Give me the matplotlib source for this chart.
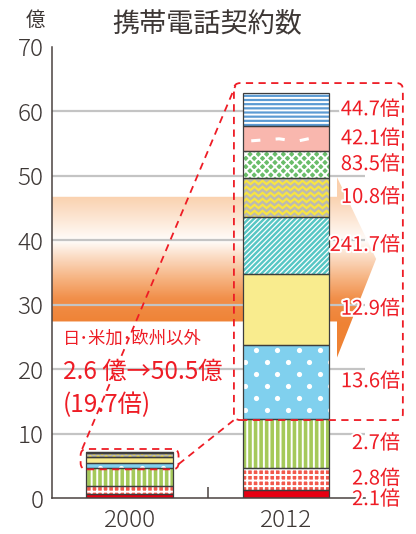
import numpy as np
import matplotlib
matplotlib.use("Agg")
import matplotlib.pyplot as plt
from matplotlib.patches import FancyBboxPatch, Polygon
from matplotlib.colors import LinearSegmentedColormap
import matplotlib.patheffects as pe

plt.rcParams['font.family'] = ['Noto Sans CJK JP', 'DejaVu Sans']
plt.rcParams['hatch.linewidth'] = 1.4

# ---- data (億件) -------------------------------------------------------
years = ['2000', '2012']
# segments stacked from the bottom up
values_2000 = [0.62, 1.18, 2.85, 0.846, 0.853, 0.0364, 0.565, 0.049, 0.093, 0.114]
values_2012 = [1.3, 3.3, 7.7, 11.5, 11.0, 8.8, 6.1, 4.1, 3.9, 5.1]
ratio_labels = ['2.1倍', '2.8倍', '2.7倍', '13.6倍', '12.9倍', '241.7倍',
                '10.8倍', '83.5倍', '42.1倍', '44.7倍']
others_note = ['日･米加･欧州以外', '2.6 億→50.5億', '(19.7倍)']
title = '携帯電話契約数'
unit = '億'
y_ticks = [0, 10, 20, 30, 40, 50, 60, 70]

# ---- styling per segment: face colour, pattern kind, pattern argument ---
styles = [
    ('#e60012', None, None),
    ('#f2594b', 'hatch', '+++'),
    ('#a5c95a', 'hatch', '|||'),
    ('#80d0ee', 'dots', None),
    ('#f9ec8e', None, None),
    ('#57c6c4', 'diagonal', None),
    ('#f7e443', 'zigzag', '#bdbbb0'),
    ('#6abd6a', 'hatch', 'xxxx'),
    ('#f9b7ae', 'dashes', None),
    ('#5c9bd3', 'hatch', '----'),
]

RED = '#ee1c25'
INK = '#3d3735'
EDGE = '#3d3d3d'

fig = plt.figure(figsize=(4.16, 5.34), dpi=100)
ax = fig.add_axes([0.125, 0.0674, 0.875, 0.8446])
ax.set_xlim(-0.496, 1.831)
ax.set_ylim(0, 70)

# pixel size in data units (for patterns that are defined in pixels)
px_x = 1 / (ax.transData.transform((1, 0))[0] - ax.transData.transform((0, 0))[0])
px_y = 1 / (ax.transData.transform((0, 1))[1] - ax.transData.transform((0, 0))[1])

bar_w = 0.556
xpos = np.arange(len(years))
grid_end = 1.505

# ---- background arrow with vertical gradient ---------------------------
stops = [(21.0, '#ef8234'), (27.0, '#ef8234'), (31.0, '#f18f4a'),
         (34.0, '#f6b27f'), (37.5, '#fbdcc4'), (40.0, '#fffdfb'),
         (43.0, '#fde9d9'), (46.8, '#fad2b0'), (50.0, '#fbd0ac')]
lo, hi = stops[0][0], stops[-1][0]
cmap = LinearSegmentedColormap.from_list(
    'arrow', [((v - lo) / (hi - lo), c) for v, c in stops])
grad = np.linspace(lo, hi, 400).reshape(-1, 1)
body_top, body_bot = 46.75, 27.4
head_x, tip_x = 1.326, 1.576
arrow_poly = Polygon([(-0.573, body_bot), (-0.573, body_top), (head_x, body_top),
                      (head_x, 49.8), (tip_x, 37.1), (head_x, 21.8),
                      (head_x, body_bot)], closed=True, transform=ax.transData,
                     facecolor='none', edgecolor='none')
ax.add_patch(arrow_poly)
img = ax.imshow(grad, cmap=cmap, origin='lower', aspect='auto',
                extent=(-0.6, 1.6, lo, hi), zorder=0.5, interpolation='bilinear')
img.set_clip_path(arrow_poly)
ax.set_xlim(-0.496, 1.831)
ax.set_ylim(0, 70)

# ---- grid lines ---------------------------------------------------------
ax.hlines(y_ticks[1:-1], ax.get_xlim()[0], grid_end, colors='#c4c4c4',
          lw=1.6, zorder=1)


# ---- pattern helpers ----------------------------------------------------
def draw_dots(rect, x0, w, y0, h):
    dx, dy = 21.3 * px_x, 12 * px_y
    xs, ys = [], []
    for i, yy in enumerate(np.arange(y0 + h - 5 * px_y, y0 - dy, -dy)):
        start = x0 + (13.4 if i % 2 == 0 else 2.7) * px_x
        for xx in np.arange(start, x0 + w + dx, dx):
            xs.append(xx)
            ys.append(yy)
    sc = ax.scatter(xs, ys, s=14, c='white', linewidths=0, zorder=2.1)
    sc.set_clip_path(rect)


def draw_zigzag(rect, x0, w, y0, h, color):
    period, amp, gap = 8 * px_x, 3.3 * px_y, 6.0 * px_y
    xs = np.arange(x0 - period, x0 + w + period, period / 2)
    tooth = np.where(np.arange(len(xs)) % 2 == 0, 0.0, amp)
    for yb in np.arange(y0 - gap, y0 + h + gap, gap):
        ln, = ax.plot(xs, yb + tooth, color=color, lw=1.7, zorder=2.1,
                      solid_joinstyle='miter')
        ln.set_clip_path(rect)


def draw_diagonal(rect, x0, w, y0, h):
    step = 5.2 * px_x
    h_px = h / px_y
    for xs in np.arange(x0 - h_px * px_x, x0 + w + step, step):
        ln, = ax.plot([xs, xs + h_px * px_x], [y0, y0 + h], color='white',
                      lw=0.9, zorder=2.1)
        ln.set_clip_path(rect)


def draw_dashes(rect, x0, w, y0, h):
    fx = np.array([0.1, 0.42, 0.62, 0.92])
    fy = np.array([0.42, 0.5, 0.4, 0.62])
    ln, = ax.plot(x0 + fx * w, y0 + fy * h, color='white', lw=2.2,
                  dashes=(3, 5), zorder=2.1, solid_capstyle='round')
    ln.set_clip_path(rect)


# ---- stacked bars -------------------------------------------------------
for xi, vals in zip(xpos, [values_2000, values_2012]):
    bottoms = np.concatenate([[0], np.cumsum(vals)[:-1]])
    for v, b, (face, kind, arg) in zip(vals, bottoms, styles):
        if kind == 'hatch':
            rect = ax.bar(xi, v, bottom=b, width=bar_w, color=face,
                          edgecolor='white', lw=0, hatch=arg, zorder=2)[0]
        else:
            rect = ax.bar(xi, v, bottom=b, width=bar_w, color=face,
                          lw=0, zorder=2)[0]
        x0 = xi - bar_w / 2
        if kind == 'dots':
            draw_dots(rect, x0, bar_w, b, v)
        elif kind == 'zigzag':
            draw_zigzag(rect, x0, bar_w, b, v, arg)
        elif kind == 'diagonal':
            draw_diagonal(rect, x0, bar_w, b, v)
        elif kind == 'dashes':
            draw_dashes(rect, x0, bar_w, b, v)
        ax.bar(xi, v, bottom=b, width=bar_w, fill=False, edgecolor=EDGE,
               lw=0.9, zorder=2.2)

# ---- dashed callout boxes and connectors --------------------------------
n_base = 3
aspect = px_y / px_x
boxes = []
for xi, vals, pad_top in zip(xpos, [values_2000, values_2012], [0.4, 1.6]):
    base = sum(vals[:n_base])
    total = sum(vals)
    pad_x = 0.035 if xi == 0 else 0.055
    left = xi - bar_w / 2 - pad_x
    right = xi + bar_w / 2 + pad_x if xi == 0 else 1.747
    bottom = base - 0.2
    top = total + pad_top
    box = FancyBboxPatch((left, bottom), right - left, top - bottom,
                         boxstyle='round,pad=0,rounding_size=0.04',
                         mutation_aspect=aspect, fill=False, edgecolor=RED,
                         lw=1.3, linestyle=(0, (4, 3)), zorder=3)
    ax.add_patch(box)
    boxes.append((left, right, bottom, top))

(l0, r0, b0, t0), (l1, r1, b1, t1) = boxes
ax.plot([l0 + 0.01, l1 + 0.01], [t0, t1 - 0.4], color=RED, lw=1.3,
        linestyle=(0, (4, 3)), zorder=3)
ax.plot([r0, l1], [b0 + 0.8, b1], color=RED, lw=1.3,
        linestyle=(0, (4, 3)), zorder=3)

# ---- ratio labels -------------------------------------------------------
label_x = 1.729
stroke = [pe.withStroke(linewidth=3, foreground='white')]
cum = np.cumsum(values_2012)
centers = cum - np.array(values_2012) / 2
nudge = np.zeros(len(centers))
nudge[0] = -0.9
for c, n, txt in zip(centers, nudge, ratio_labels):
    ax.text(label_x, c + n, txt, ha='right', va='center', color=RED,
            fontsize=14.5, zorder=4, path_effects=stroke)

# ---- note for the rest of the world -------------------------------------
ax.text(-0.426, 24.7, others_note[0], ha='left', va='center', color=RED,
        fontsize=12.5, zorder=4)
ax.text(-0.426, 19.6, others_note[1], ha='left', va='center', color=RED,
        fontsize=17.5, zorder=4)
ax.text(-0.43, 14.4, others_note[2], ha='left', va='center', color=RED,
        fontsize=17.5, zorder=4)

# ---- axes styling -------------------------------------------------------
for s in ['top', 'right']:
    ax.spines[s].set_visible(False)
for s in ['left', 'bottom']:
    ax.spines[s].set_color('#4a4240')
    ax.spines[s].set_linewidth(1.1)
ax.spines['bottom'].set_bounds(ax.get_xlim()[0], grid_end)

ax.set_yticks(y_ticks)
ax.set_yticklabels([str(t) for t in y_ticks])
ax.set_yticks([70], minor=True)
ax.tick_params(axis='y', which='major', length=0, pad=6, labelsize=17.5,
               labelcolor=INK)
ax.tick_params(axis='y', which='minor', direction='in', length=8,
               width=1.1, color='#4a4240')

ax.set_xticks(xpos)
ax.set_xticklabels(years)
ax.set_xticks([0.5], minor=True)
ax.tick_params(axis='x', which='major', length=0, pad=7, labelsize=17.5,
               labelcolor=INK)
ax.tick_params(axis='x', which='minor', direction='in', length=8,
               width=1.1, color='#4a4240')
for lab in ax.get_xticklabels() + ax.get_yticklabels():
    lab.set_fontweight('light')

fig.text(0.499, 0.955, title, ha='center', va='center', fontsize=19.5,
         color=INK)
fig.text(0.084, 0.962, unit, ha='center', va='center', fontsize=14,
         color=INK)

fig.savefig('out.png', dpi=100)
